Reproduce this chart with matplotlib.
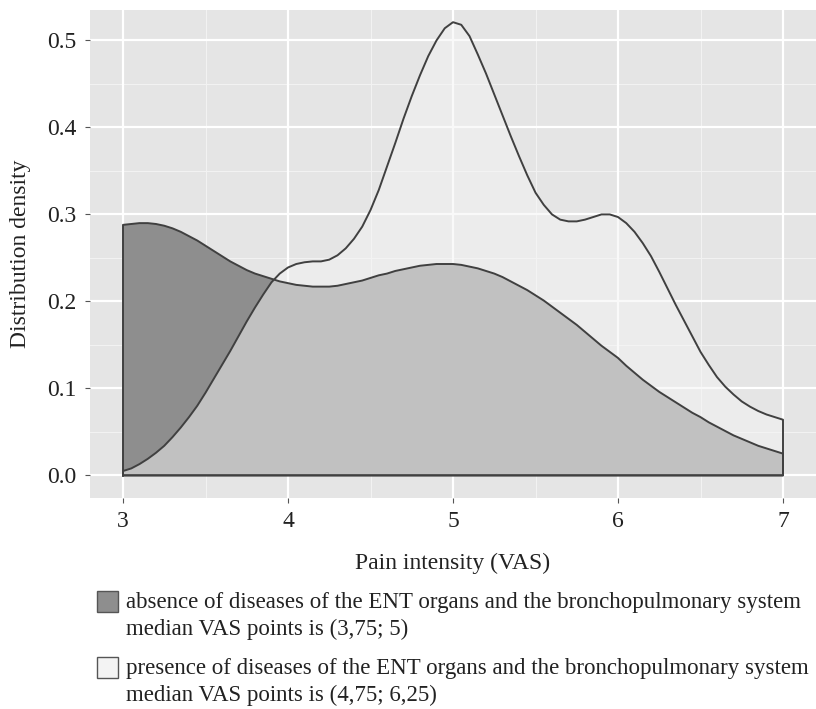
import matplotlib
matplotlib.use("Agg")
import matplotlib.pyplot as plt
from matplotlib.patches import Rectangle
import numpy as np

# values, every 0.05 on the VAS scale from 3 to 7
x_vals = np.round(np.arange(3.0, 7.0001, 0.05), 2)

absence = [0.288, 0.289, 0.290, 0.290, 0.289, 0.287, 0.284, 0.280, 0.275, 0.270,
           0.264, 0.258, 0.252, 0.246, 0.241, 0.236, 0.232, 0.229, 0.226, 0.223,
           0.221, 0.219, 0.218, 0.217, 0.217, 0.217, 0.218, 0.220, 0.222, 0.224,
           0.227, 0.230, 0.232, 0.235, 0.237, 0.239, 0.241, 0.242, 0.243, 0.243,
           0.243, 0.242, 0.240, 0.238, 0.235, 0.232, 0.228, 0.223, 0.218, 0.213,
           0.207, 0.201, 0.194, 0.187, 0.180, 0.173, 0.165, 0.157, 0.149, 0.142,
           0.135, 0.126, 0.118, 0.110, 0.103, 0.096, 0.090, 0.084, 0.078, 0.072,
           0.067, 0.061, 0.056, 0.051, 0.046, 0.042, 0.038, 0.034, 0.031, 0.028,
           0.025]

presence = [0.005, 0.008, 0.013, 0.019, 0.026, 0.034, 0.044, 0.055, 0.067, 0.080,
            0.095, 0.111, 0.127, 0.143, 0.160, 0.177, 0.193, 0.208, 0.222, 0.232,
            0.239, 0.243, 0.245, 0.246, 0.246, 0.248, 0.253, 0.261, 0.272, 0.286,
            0.305, 0.328, 0.355, 0.382, 0.410, 0.436, 0.460, 0.482, 0.500, 0.514,
            0.521, 0.518, 0.505, 0.484, 0.462, 0.438, 0.414, 0.390, 0.367, 0.345,
            0.325, 0.311, 0.300, 0.294, 0.292, 0.292, 0.294, 0.297, 0.300, 0.300,
            0.297, 0.290, 0.280, 0.267, 0.252, 0.234, 0.215, 0.196, 0.178, 0.160,
            0.142, 0.127, 0.113, 0.102, 0.093, 0.085, 0.079, 0.074, 0.070, 0.067,
            0.064]

labels = ["absence of diseases of the ENT organs and the bronchopulmonary system\nmedian VAS points is (3,75; 5)",
          "presence of diseases of the ENT organs and the bronchopulmonary system\nmedian VAS points is (4,75; 6,25)"]
legend_colors = ['#8e8e8e', '#f3f3f3']

x_ticks = [3, 4, 5, 6, 7]
y_ticks = [0.0, 0.1, 0.2, 0.3, 0.4, 0.5]

plt.rcParams['font.family'] = ['Liberation Serif', 'DejaVu Serif']

W, H = 816, 709
fig = plt.figure(figsize=(W / 100, H / 100), dpi=100)
ax = fig.add_axes([90/W, 1 - 498/H, 726/W, 488/H])

ax.set_facecolor('#e5e5e5')
ax.set_xlim(2.8, 7.2)
ax.set_ylim(-0.026, 0.535)

# grid, ggplot style
for v in np.arange(3.5, 7.0, 1.0):
    ax.axvline(v, color='#f2f2f2', lw=0.8, zorder=0)
for v in np.arange(0.05, 0.55, 0.1):
    ax.axhline(v, color='#f2f2f2', lw=0.8, zorder=0)
for v in x_ticks:
    ax.axvline(v, color='white', lw=1.6, zorder=0)
for v in y_ticks:
    ax.axhline(v, color='white', lw=1.6, zorder=0)

# closed polygons down to the baseline, like geom_density
px = np.concatenate([[x_vals[0]], x_vals, [x_vals[-1], x_vals[0]]])
ya = [0] + absence + [0, 0]
yp = [0] + presence + [0, 0]
ax.fill(px, ya, facecolor='#8e8e8e', edgecolor='none', zorder=2)
ax.fill(px, yp, facecolor='#f4f4f4', alpha=0.5, edgecolor='none', zorder=3)
ax.plot(px, ya, color='#404040', lw=1.4, zorder=4, solid_joinstyle='round')
ax.plot(px, yp, color='#404040', lw=1.4, zorder=4, solid_joinstyle='round')

ax.set_xticks(x_ticks)
ax.set_xticklabels([str(v) for v in x_ticks])
ax.set_yticks(y_ticks)
ax.set_yticklabels(['%.1f' % v for v in y_ticks])
ax.tick_params(length=3.5, width=0.8, color='#555555', labelsize=17, labelcolor='#222222', pad=6)
for s in ax.spines.values():
    s.set_visible(False)

ax.set_xlabel('Pain intensity (VAS)', fontsize=17, color='#222222', labelpad=15)
ax.set_ylabel('Distribution density', fontsize=17, color='#222222', labelpad=12)

# legend below the plot, drawn by hand so the key sits by the first line
entry_top = [591, 657]
for top, lab, col in zip(entry_top, labels, legend_colors):
    fig.patches.append(Rectangle((97/W, 1 - (top + 21)/H), 21/W, 21/H,
                                 transform=fig.transFigure, facecolor=col,
                                 edgecolor='#555555', lw=1.0))
    fig.text(126/W, 1 - (top + 1)/H, lab, ha='left', va='top', fontsize=16.5,
             color='#222222', linespacing=1.38)

fig.savefig('out.png', dpi=100)
